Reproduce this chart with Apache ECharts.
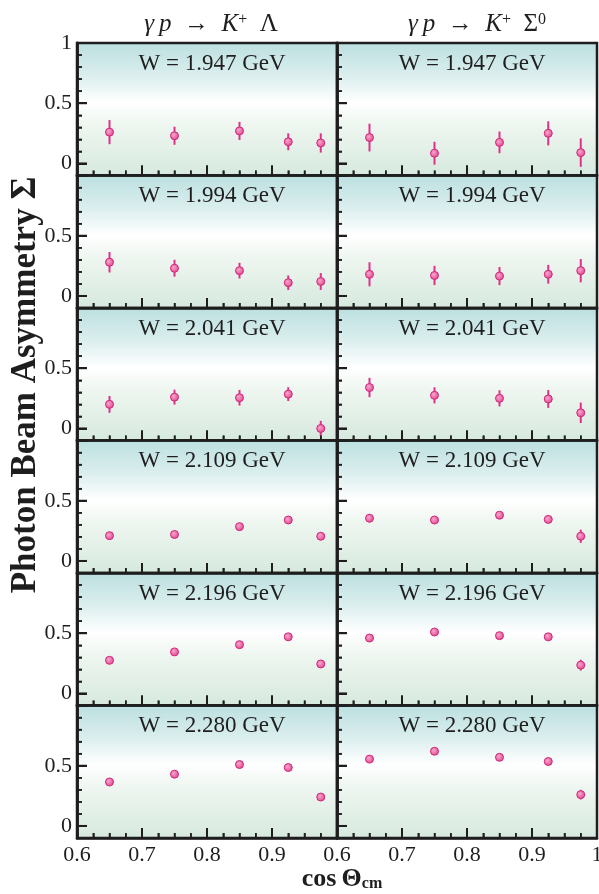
<!DOCTYPE html>
<html style="height: 100%">
<head>
<meta charset="utf-8">
<script src="https://cdn.jsdelivr.net/npm/echarts@6/dist/echarts.min.js"></script>
</head>
<body style="height: 100%; margin: 0; background: #fff">
<div id="chart" style="width: 599px; height: 894px"></div>
<script>
// cos(theta_cm) bins
var cosTheta = [0.65, 0.75, 0.85, 0.925, 0.975];
// W bins (GeV), one panel row each
var wLabels = ['1.947', '1.994', '2.041', '2.109', '2.196', '2.280'];

// beam asymmetry for K+ Lambda, rows = W bins
var lambdaVal = [
  [0.26, 0.23, 0.27, 0.18, 0.17],
  [0.28, 0.23, 0.21, 0.11, 0.12],
  [0.20, 0.26, 0.255, 0.285, 0.00],
  [0.21, 0.22, 0.285, 0.34, 0.205],
  [0.275, 0.345, 0.405, 0.47, 0.245],
  [0.365, 0.43, 0.51, 0.485, 0.24]
];
var lambdaErr = [
  [0.10, 0.075, 0.075, 0.07, 0.08],
  [0.085, 0.07, 0.065, 0.06, 0.07],
  [0.07, 0.062, 0.065, 0.057, 0.063],
  [0.025, 0.02, 0.02, 0.02, 0.025],
  [0.015, 0.015, 0.015, 0.015, 0.015],
  [0.012, 0.012, 0.012, 0.012, 0.012]
];
// beam asymmetry for K+ Sigma0
var sigmaVal = [
  [0.215, 0.085, 0.175, 0.25, 0.09],
  [0.18, 0.17, 0.165, 0.18, 0.21],
  [0.34, 0.275, 0.25, 0.245, 0.13],
  [0.355, 0.34, 0.38, 0.345, 0.205],
  [0.46, 0.51, 0.48, 0.47, 0.235],
  [0.555, 0.62, 0.57, 0.535, 0.26]
];
var sigmaErr = [
  [0.115, 0.095, 0.09, 0.10, 0.118],
  [0.10, 0.08, 0.075, 0.078, 0.097],
  [0.08, 0.067, 0.067, 0.074, 0.085],
  [0.035, 0.03, 0.025, 0.03, 0.055],
  [0.02, 0.015, 0.015, 0.015, 0.045],
  [0.012, 0.012, 0.012, 0.012, 0.04]
];

// tick positions
var xMajor = [0.6, 0.7, 0.8, 0.9, 1.0];
var xMinor = [0.625, 0.65, 0.675, 0.725, 0.75, 0.775, 0.825, 0.85, 0.875, 0.925, 0.95, 0.975];
var yMajor = [0, 0.5, 1];
var yMinor = [0.1, 0.2, 0.3, 0.4, 0.6, 0.7, 0.8, 0.9];

var SERIF = '"Liberation Serif", "DejaVu Serif", serif';
var INK = '#1e1e1e';
var lefts = [77, 337];
var panelW = 260;
var top0 = 43;
var rowH = 132.5;
var X_MIN = 0.6, X_MAX = 1, Y_MIN = -0.1, Y_MAX = 1;

var grids = [], xAxes = [], yAxes = [], series = [], graphics = [];

function errData(vals, errs) {
  var out = [];
  for (var i = 0; i < cosTheta.length; i++) {
    out.push([cosTheta[i], vals[i] - errs[i], vals[i] + errs[i]]);
  }
  return out;
}
function ptData(vals) {
  var out = [];
  for (var i = 0; i < cosTheta.length; i++) out.push([cosTheta[i], vals[i]]);
  return out;
}
// tick rows: [x, y, kind]  kind 0/1 = x major/minor, 2/3 = y major/minor
function tickData() {
  var out = [];
  xMajor.forEach(function (v) { out.push([v, Y_MIN, 0]); });
  xMinor.forEach(function (v) { out.push([v, Y_MIN, 1]); });
  yMajor.forEach(function (v) { out.push([X_MIN, v, 2]); });
  yMinor.forEach(function (v) { out.push([X_MIN, v, 3]); });
  return out;
}

function panelBg() {
  return new echarts.graphic.LinearGradient(0, 0, 0, 1, [
    { offset: 0, color: '#bbdfdf' },
    { offset: 0.25, color: '#dbeeee' },
    { offset: 0.45, color: '#ffffff' },
    { offset: 0.62, color: '#eef6f0' },
    { offset: 1, color: '#d6e9de' }
  ]);
}
function dotFill() {
  return new echarts.graphic.RadialGradient(0.4, 0.4, 0.6, [
    { offset: 0, color: '#f8a6cc' },
    { offset: 1, color: '#e2478f' }
  ]);
}

for (var row = 0; row < 6; row++) {
  for (var col = 0; col < 2; col++) {
    var g = grids.length;
    var panelTop = top0 + row * rowH;
    var bottomRow = row === 5;
    grids.push({
      left: lefts[col], top: panelTop, width: panelW, height: rowH,
      show: true, borderColor: INK, borderWidth: 2.5,
      backgroundColor: panelBg(), outerBoundsMode: 'none'
    });

    // x: labels only
    xAxes.push({
      type: 'value', gridIndex: g, position: 'bottom', min: X_MIN, max: X_MAX,
      axisLine: { show: false, onZero: false },
      splitLine: { show: false },
      axisTick: { show: false },
      axisLabel: {
        show: bottomRow,
        customValues: col === 0 ? [0.6, 0.7, 0.8, 0.9] : xMajor.slice(),
        formatter: function (v) { return v === 1 ? '1' : v.toFixed(1); },
        fontFamily: SERIF, fontSize: 22, color: INK, margin: 6
      }
    });
    // x: ticks every 0.1 with minor ticks every 0.025
    xAxes.push({
      type: 'value', gridIndex: g, position: 'bottom', min: X_MIN, max: X_MAX, interval: 0.1,
      axisLine: { show: true, onZero: false, lineStyle: { color: INK, width: 2.5 } },
      splitLine: { show: false },
      axisLabel: { show: false },
      axisTick: { show: true, inside: true, length: 10, lineStyle: { color: INK, width: 2 } },
      minorTick: { show: true, splitNumber: 4, length: 5, lineStyle: { color: INK, width: 1.5 } },
      minorSplitLine: { show: false }
    });

    var yLabels = col === 0 ? (row === 0 ? [0, 0.5, 1] : [0, 0.5]) : [];
    // y: labels only
    yAxes.push({
      type: 'value', gridIndex: g, position: 'left', min: Y_MIN, max: Y_MAX,
      axisLine: { show: false, onZero: false },
      splitLine: { show: false },
      axisTick: { show: false },
      axisLabel: {
        show: col === 0,
        customValues: yLabels,
        formatter: function (v) { return v === 0 ? '0' : (v === 1 ? '1' : '0.5'); },
        fontFamily: SERIF, fontSize: 22, color: INK, margin: 5
      }
    });
    // y: short ticks every 0.1
    yAxes.push({
      type: 'value', gridIndex: g, position: 'left', min: Y_MIN, max: Y_MAX, interval: 0.1,
      axisLine: { show: true, onZero: false, lineStyle: { color: INK, width: 2.5 } },
      splitLine: { show: false },
      axisLabel: { show: false },
      axisTick: { show: true, inside: true, length: 5, lineStyle: { color: INK, width: 1.5 } }
    });
    // y: long ticks at 0, 0.5, 1 (reversed 0..1.1 scale lands on the same spots)
    yAxes.push({
      type: 'value', gridIndex: g, position: 'left', inverse: true, min: 0, max: 1.1, interval: 0.5,
      axisLine: { show: true, onZero: false, lineStyle: { color: INK, width: 2.5 } },
      splitLine: { show: false },
      axisLabel: { show: false },
      axisTick: { show: true, inside: true, length: 10, lineStyle: { color: INK, width: 2 } }
    });

    var xi = 2 * g, yi = 3 * g;

    // inward ticks drawn through the data scales as well
    series.push({
      type: 'custom', coordinateSystem: 'cartesian2d',
      xAxisIndex: xi, yAxisIndex: yi, z: 8,
      encode: { x: 0, y: 1 },
      dimensions: ['x', 'y', 'kind'],
      data: tickData(),
      renderItem: function (params, api) {
        var kind = api.value(2);
        var p = api.coord([api.value(0), api.value(1)]);
        var major = (kind === 0 || kind === 2);
        var len = major ? 10 : 5;
        var shape = kind < 2
          ? { x1: p[0], y1: p[1], x2: p[0], y2: p[1] - len }
          : { x1: p[0], y1: p[1], x2: p[0] + len, y2: p[1] };
        return { type: 'line', shape: shape, style: { stroke: INK, lineWidth: major ? 2 : 1.5 } };
      }
    });

    var vals = col === 0 ? lambdaVal[row] : sigmaVal[row];
    var errs = col === 0 ? lambdaErr[row] : sigmaErr[row];

    series.push({
      type: 'custom', coordinateSystem: 'cartesian2d',
      xAxisIndex: xi, yAxisIndex: yi, z: 6,
      encode: { x: 0, y: [1, 2] },
      data: errData(vals, errs),
      renderItem: function (params, api) {
        var a = api.coord([api.value(0), api.value(2)]);
        var b = api.coord([api.value(0), api.value(1)]);
        return {
          type: 'line',
          shape: { x1: a[0], y1: a[1], x2: b[0], y2: b[1] },
          style: { stroke: '#e0308a', lineWidth: 2 }
        };
      }
    });
    series.push({
      type: 'scatter', xAxisIndex: xi, yAxisIndex: yi, z: 7,
      symbol: 'circle', symbolSize: 8,
      itemStyle: { color: dotFill(), borderColor: '#d0287c', borderWidth: 1, opacity: 1 },
      data: ptData(vals)
    });

    graphics.push({
      type: 'text',
      x: lefts[col] + panelW / 2 + 5, y: panelTop + 9, z: 10,
      style: {
        text: 'W = ' + wLabels[row] + ' GeV', fill: INK,
        font: '23px ' + SERIF, textAlign: 'center', textVerticalAlign: 'top'
      }
    });
  }
}

// column headers
var headRich = {
  it: { fontStyle: 'italic', fontFamily: SERIF, fontSize: 25, fill: INK },
  sup: { fontFamily: SERIF, fontSize: 16, fill: INK, verticalAlign: 'top' }
};
graphics.push({
  type: 'text', x: 211, y: 12,
  style: {
    text: '{it|\u03b3\u2009p}\u2002\u2192\u2002{it|K}{sup|+}\u2002\u039b',
    font: '25px ' + SERIF, fill: INK, textAlign: 'center', textVerticalAlign: 'top',
    rich: headRich
  }
});
graphics.push({
  type: 'text', x: 477, y: 12,
  style: {
    text: '{it|\u03b3\u2009p}\u2002\u2192\u2002{it|K}{sup|+}\u2002\u03a3{sup|0}',
    font: '25px ' + SERIF, fill: INK, textAlign: 'center', textVerticalAlign: 'top',
    rich: headRich
  }
});
// axis titles
graphics.push({
  type: 'text', x: 26, y: 385, rotation: Math.PI / 2,
  style: {
    text: 'Photon Beam Asymmetry \u03a3',
    font: 'bold 35px ' + SERIF, fill: INK, textAlign: 'center', textVerticalAlign: 'middle'
  }
});
graphics.push({
  type: 'text', x: 342, y: 866,
  style: {
    text: 'cos\u2009\u0398{sub|cm}',
    font: 'bold 26px ' + SERIF, fill: INK, textAlign: 'center', textVerticalAlign: 'top',
    rich: {
      sub: { fontFamily: SERIF, fontWeight: 'bold', fontSize: 16, fill: INK, verticalAlign: 'bottom' }
    }
  }
});

var chart = echarts.init(document.getElementById('chart'));
chart.setOption({
  animation: false,
  backgroundColor: '#ffffff',
  grid: grids,
  xAxis: xAxes,
  yAxis: yAxes,
  series: series,
  graphic: graphics
});
</script>
</body>
</html>
